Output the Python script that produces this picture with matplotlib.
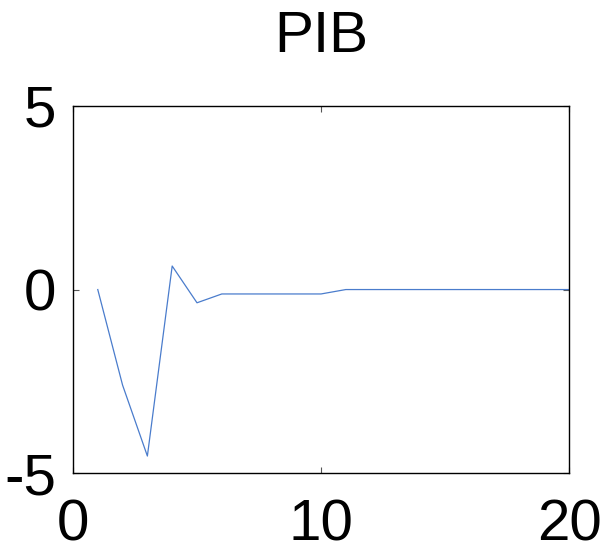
import matplotlib
matplotlib.use("Agg")
import matplotlib.pyplot as plt

periods = list(range(1, 21))
pib = [0.0, -2.6, -4.53, 0.64, -0.36, -0.12, -0.12, -0.12, -0.12, -0.12,
       0.0, 0.0, 0.0, 0.0, 0.0, 0.0, 0.0, 0.0, 0.0, 0.0]
title = "PIB"
xticks = [0, 10, 20]
yticks = [-5, 0, 5]

plt.rcParams['font.family'] = ['Liberation Sans', 'DejaVu Sans']
plt.rcParams['axes.unicode_minus'] = False

fig = plt.figure(figsize=(6.08, 5.51), dpi=100)
ax = fig.add_axes([0.120, 0.141, 0.816, 0.667])
ax.plot(periods, pib, color='#4a7ccc', lw=0.9)
ax.set_xlim(0, 20)
ax.set_ylim(-5, 5)
ax.set_xticks(xticks)
ax.set_yticks(yticks)
ax.set_xticklabels([str(t) for t in xticks])
ax.set_yticklabels([str(t) for t in yticks])
ax.tick_params(direction='in', length=4, width=0.8, color='#555555',
               labelsize=42, top=True, right=True, pad=12)
ax.tick_params(axis='x', pad=18)
for s in ax.spines.values():
    s.set_linewidth(1.0)
    s.set_color('black')
ax.set_title(title, fontsize=42, pad=39)
fig.savefig('out.png', dpi=100)
